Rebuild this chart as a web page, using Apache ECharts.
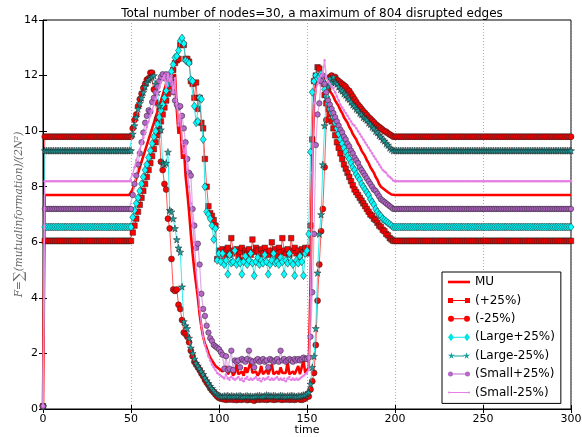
<!DOCTYPE html>
<html>
<head>
<meta charset="utf-8">
<script src="https://cdn.jsdelivr.net/npm/echarts@6/dist/echarts.min.js"></script>
<style>html,body{margin:0;padding:0;background:#fff;}#c{width:582px;height:437px;}</style>
</head>
<body>
<div id="c"></div>
<script>
// values indexed by time t = 0..300
const mu = [0.1,
7.7,7.7,7.7,7.7,7.7,7.7,7.7,7.7,7.7,7.7,
7.7,7.7,7.7,7.7,7.7,7.7,7.7,7.7,7.7,7.7,
7.7,7.7,7.7,7.7,7.7,7.7,7.7,7.7,7.7,7.7,
7.7,7.7,7.7,7.7,7.7,7.7,7.7,7.7,7.7,7.7,
7.7,7.7,7.7,7.7,7.7,7.7,7.7,7.7,7.7,7.7,
7.9,8.1,8.3,8.5,8.7,8.9,9.1,9.3,9.5,9.7,
9.9,10.1,10.3,10.5,10.7,10.9,11.1,11.3,11.5,11.7,
11.85,11.95,12.1,11.9,12.05,10.8,9.9,10.5,9.0,9.5,
8.4,7.8,7.1,6.3,5.6,5.0,4.5,4.0,3.4,2.95,
2.6,2.35,2.2,2.0,1.85,1.75,1.65,1.55,1.5,1.45,
1.4,1.35,1.3,1.55,1.25,1.3,1.45,1.2,1.3,1.6,
1.25,1.3,1.35,1.2,1.5,1.3,1.25,1.7,1.3,1.25,
1.35,1.2,1.3,1.55,1.25,1.3,1.4,1.25,1.3,1.6,
1.25,1.3,1.35,1.25,1.5,1.3,1.25,1.3,1.7,1.25,
1.3,1.35,1.25,1.3,1.55,1.25,1.3,1.75,1.3,1.35,
1.5,4.5,9.0,11.0,11.6,11.8,12.0,11.9,12.0,11.8,
11.7,11.6,11.45,11.35,11.25,11.1,11.0,10.9,10.75,10.65,
10.5,10.4,10.3,10.15,10.05,9.9,9.8,9.7,9.55,9.45,
9.3,9.2,9.1,8.95,8.85,8.7,8.6,8.5,8.35,8.25,
8.1,8.0,7.95,7.9,7.85,7.8,7.75,7.72,7.7,7.7,
7.7,7.7,7.7,7.7,7.7,7.7,7.7,7.7,7.7,7.7,
7.7,7.7,7.7,7.7,7.7,7.7,7.7,7.7,7.7,7.7,
7.7,7.7,7.7,7.7,7.7,7.7,7.7,7.7,7.7,7.7,
7.7,7.7,7.7,7.7,7.7,7.7,7.7,7.7,7.7,7.7,
7.7,7.7,7.7,7.7,7.7,7.7,7.7,7.7,7.7,7.7,
7.7,7.7,7.7,7.7,7.7,7.7,7.7,7.7,7.7,7.7,
7.7,7.7,7.7,7.7,7.7,7.7,7.7,7.7,7.7,7.7,
7.7,7.7,7.7,7.7,7.7,7.7,7.7,7.7,7.7,7.7,
7.7,7.7,7.7,7.7,7.7,7.7,7.7,7.7,7.7,7.7,
7.7,7.7,7.7,7.7,7.7,7.7,7.7,7.7,7.7,7.7];

const plus25 = [0.1,
6.05,6.05,6.05,6.05,6.05,6.05,6.05,6.05,6.05,6.05,
6.05,6.05,6.05,6.05,6.05,6.05,6.05,6.05,6.05,6.05,
6.05,6.05,6.05,6.05,6.05,6.05,6.05,6.05,6.05,6.05,
6.05,6.05,6.05,6.05,6.05,6.05,6.05,6.05,6.05,6.05,
6.05,6.05,6.05,6.05,6.05,6.05,6.05,6.05,6.05,6.05,
6.35,6.6,6.85,7.1,7.35,7.6,7.85,8.1,8.35,8.6,
8.85,9.1,9.35,9.6,9.85,10.1,10.35,10.6,10.85,11.1,
11.35,11.6,11.9,12.2,12.45,12.55,12.6,13.1,13.15,13.1,
12.6,12.6,12.5,11.8,11.7,11.2,11.75,10.8,11.2,10.3,
10.1,9.0,8.0,7.3,7.05,6.95,6.8,6.6,5.4,5.7,
5.6,5.75,5.5,5.7,5.8,5.55,6.15,5.7,5.6,5.75,
5.5,5.65,5.8,5.35,5.7,5.6,5.75,5.55,6.1,5.65,
5.8,5.7,5.45,5.75,5.6,5.8,5.65,5.55,5.7,6.0,
5.6,5.75,5.5,5.8,5.65,6.15,5.7,5.6,5.75,5.55,
6.15,5.7,5.8,5.6,5.7,5.55,5.75,5.65,5.8,5.6,
5.8,6.6,9.7,11.8,12.0,12.3,12.25,11.9,11.7,11.3,
11.0,10.8,10.6,10.35,10.1,9.85,9.6,9.4,9.2,9.0,
8.8,8.65,8.5,8.35,8.2,8.05,7.9,7.8,7.7,7.6,
7.5,7.4,7.3,7.2,7.1,7.0,6.95,6.85,6.8,6.7,
6.6,6.55,6.45,6.4,6.3,6.25,6.15,6.1,6.05,6.05,
6.05,6.05,6.05,6.05,6.05,6.05,6.05,6.05,6.05,6.05,
6.05,6.05,6.05,6.05,6.05,6.05,6.05,6.05,6.05,6.05,
6.05,6.05,6.05,6.05,6.05,6.05,6.05,6.05,6.05,6.05,
6.05,6.05,6.05,6.05,6.05,6.05,6.05,6.05,6.05,6.05,
6.05,6.05,6.05,6.05,6.05,6.05,6.05,6.05,6.05,6.05,
6.05,6.05,6.05,6.05,6.05,6.05,6.05,6.05,6.05,6.05,
6.05,6.05,6.05,6.05,6.05,6.05,6.05,6.05,6.05,6.05,
6.05,6.05,6.05,6.05,6.05,6.05,6.05,6.05,6.05,6.05,
6.05,6.05,6.05,6.05,6.05,6.05,6.05,6.05,6.05,6.05,
6.05,6.05,6.05,6.05,6.05,6.05,6.05,6.05,6.05,6.05];

const minus25 = [0.1,
9.8,9.8,9.8,9.8,9.8,9.8,9.8,9.8,9.8,9.8,
9.8,9.8,9.8,9.8,9.8,9.8,9.8,9.8,9.8,9.8,
9.8,9.8,9.8,9.8,9.8,9.8,9.8,9.8,9.8,9.8,
9.8,9.8,9.8,9.8,9.8,9.8,9.8,9.8,9.8,9.8,
9.8,9.8,9.8,9.8,9.8,9.8,9.8,9.8,9.8,9.8,
10.1,10.4,10.6,10.9,11.15,11.35,11.55,11.7,11.85,11.9,
12.1,12.1,11.5,11.05,10.45,10.0,8.9,8.6,8.1,7.9,
6.85,6.5,5.4,4.3,4.25,4.3,3.75,3.6,3.2,2.75,
2.7,2.6,2.4,2.1,1.9,1.7,1.6,1.5,1.4,1.28,
1.18,1.05,0.95,0.86,0.75,0.67,0.6,0.52,0.45,0.4,
0.38,0.36,0.35,0.33,0.35,0.34,0.36,0.33,0.35,0.32,
0.35,0.34,0.33,0.36,0.35,0.32,0.34,0.35,0.33,0.3,
0.34,0.35,0.33,0.36,0.34,0.35,0.33,0.34,0.36,0.35,
0.33,0.34,0.35,0.36,0.34,0.33,0.35,0.34,0.36,0.33,
0.35,0.34,0.33,0.35,0.36,0.34,0.33,0.35,0.38,0.45,
0.45,0.7,1.0,1.3,2.3,3.9,5.2,6.4,7.2,8.7,
10.4,11.5,11.95,12.0,11.85,11.95,11.85,11.8,11.75,11.7,
11.65,11.6,11.5,11.45,11.35,11.25,11.15,11.05,10.95,10.88,
10.8,10.72,10.65,10.58,10.5,10.45,10.38,10.32,10.25,10.2,
10.15,10.1,10.05,10.0,9.98,9.92,9.88,9.84,9.8,9.8,
9.8,9.8,9.8,9.8,9.8,9.8,9.8,9.8,9.8,9.8,
9.8,9.8,9.8,9.8,9.8,9.8,9.8,9.8,9.8,9.8,
9.8,9.8,9.8,9.8,9.8,9.8,9.8,9.8,9.8,9.8,
9.8,9.8,9.8,9.8,9.8,9.8,9.8,9.8,9.8,9.8,
9.8,9.8,9.8,9.8,9.8,9.8,9.8,9.8,9.8,9.8,
9.8,9.8,9.8,9.8,9.8,9.8,9.8,9.8,9.8,9.8,
9.8,9.8,9.8,9.8,9.8,9.8,9.8,9.8,9.8,9.8,
9.8,9.8,9.8,9.8,9.8,9.8,9.8,9.8,9.8,9.8,
9.8,9.8,9.8,9.8,9.8,9.8,9.8,9.8,9.8,9.8,
9.8,9.8,9.8,9.8,9.8,9.8,9.8,9.8,9.8,9.8];

const largePlus25 = [0.1,
6.55,6.55,6.55,6.55,6.55,6.55,6.55,6.55,6.55,6.55,
6.55,6.55,6.55,6.55,6.55,6.55,6.55,6.55,6.55,6.55,
6.55,6.55,6.55,6.55,6.55,6.55,6.55,6.55,6.55,6.55,
6.55,6.55,6.55,6.55,6.55,6.55,6.55,6.55,6.55,6.55,
6.55,6.55,6.55,6.55,6.55,6.55,6.55,6.55,6.55,6.55,
6.9,7.15,7.4,7.6,7.85,8.1,8.35,8.6,8.8,9.05,
9.3,9.55,9.8,10.0,10.25,10.5,10.75,10.95,11.2,11.45,
11.7,11.95,12.15,12.4,12.65,12.7,12.9,13.25,13.35,13.15,
12.55,12.5,12.45,11.85,11.8,10.9,10.3,10.35,11.2,11.15,
9.7,8.0,7.1,7.0,6.85,6.6,6.1,6.5,5.35,5.6,
5.3,5.6,5.2,5.35,4.85,5.55,5.25,5.3,5.7,5.2,
5.35,5.25,4.85,5.3,5.5,5.2,5.35,5.6,5.25,4.8,
5.3,5.45,5.2,5.35,5.25,5.55,5.3,4.85,5.2,5.35,
5.6,5.25,5.3,5.2,5.45,5.3,4.85,5.35,5.25,5.6,
5.3,5.2,4.8,5.35,5.25,5.5,5.3,4.8,5.6,5.7,
6.3,9.25,11.4,11.8,12.0,11.9,11.95,12.05,11.8,11.5,
11.25,11.0,10.8,10.65,10.5,10.3,10.1,9.9,9.7,9.55,
9.4,9.25,9.1,9.0,8.85,8.7,8.6,8.45,8.35,8.25,
8.1,8.0,7.9,7.8,7.7,7.55,7.45,7.35,7.2,7.1,
7.0,6.95,6.85,6.8,6.75,6.7,6.65,6.6,6.55,6.55,
6.55,6.55,6.55,6.55,6.55,6.55,6.55,6.55,6.55,6.55,
6.55,6.55,6.55,6.55,6.55,6.55,6.55,6.55,6.55,6.55,
6.55,6.55,6.55,6.55,6.55,6.55,6.55,6.55,6.55,6.55,
6.55,6.55,6.55,6.55,6.55,6.55,6.55,6.55,6.55,6.55,
6.55,6.55,6.55,6.55,6.55,6.55,6.55,6.55,6.55,6.55,
6.55,6.55,6.55,6.55,6.55,6.55,6.55,6.55,6.55,6.55,
6.55,6.55,6.55,6.55,6.55,6.55,6.55,6.55,6.55,6.55,
6.55,6.55,6.55,6.55,6.55,6.55,6.55,6.55,6.55,6.55,
6.55,6.55,6.55,6.55,6.55,6.55,6.55,6.55,6.55,6.55,
6.55,6.55,6.55,6.55,6.55,6.55,6.55,6.55,6.55,6.55];

const largeMinus25 = [0.1,
9.3,9.3,9.3,9.3,9.3,9.3,9.3,9.3,9.3,9.3,
9.3,9.3,9.3,9.3,9.3,9.3,9.3,9.3,9.3,9.3,
9.3,9.3,9.3,9.3,9.3,9.3,9.3,9.3,9.3,9.3,
9.3,9.3,9.3,9.3,9.3,9.3,9.3,9.3,9.3,9.3,
9.3,9.3,9.3,9.3,9.3,9.3,9.3,9.3,9.3,9.3,
9.9,10.2,10.5,10.8,11.0,11.2,11.4,11.6,11.75,11.85,
11.9,11.95,12.0,11.7,11.4,10.9,10.05,8.85,8.8,8.85,
9.25,7.15,7.1,6.85,6.5,6.1,5.8,5.65,4.4,3.15,
3.0,2.9,2.55,2.2,2.0,1.8,1.65,1.55,1.45,1.35,
1.25,1.12,1.02,0.92,0.82,0.74,0.66,0.58,0.52,0.48,
0.46,0.45,0.47,0.46,0.48,0.45,0.47,0.46,0.45,0.47,
0.46,0.48,0.45,0.44,0.46,0.47,0.45,0.46,0.44,0.45,
0.46,0.47,0.48,0.46,0.45,0.47,0.5,0.48,0.47,0.46,
0.48,0.47,0.45,0.46,0.48,0.47,0.46,0.45,0.47,0.46,
0.48,0.47,0.46,0.45,0.47,0.46,0.48,0.5,0.5,0.55,
0.6,0.9,1.5,1.9,2.9,4.9,6.3,7.0,8.8,10.2,
11.2,11.6,11.9,11.75,11.95,11.75,11.7,11.6,11.5,11.45,
11.35,11.3,11.2,11.15,11.05,10.95,10.9,10.8,10.75,10.65,
10.6,10.5,10.45,10.4,10.3,10.25,10.15,10.1,10.0,9.95,
9.85,9.8,9.7,9.65,9.55,9.5,9.4,9.35,9.3,9.3,
9.3,9.3,9.3,9.3,9.3,9.3,9.3,9.3,9.3,9.3,
9.3,9.3,9.3,9.3,9.3,9.3,9.3,9.3,9.3,9.3,
9.3,9.3,9.3,9.3,9.3,9.3,9.3,9.3,9.3,9.3,
9.3,9.3,9.3,9.3,9.3,9.3,9.3,9.3,9.3,9.3,
9.3,9.3,9.3,9.3,9.3,9.3,9.3,9.3,9.3,9.3,
9.3,9.3,9.3,9.3,9.3,9.3,9.3,9.3,9.3,9.3,
9.3,9.3,9.3,9.3,9.3,9.3,9.3,9.3,9.3,9.3,
9.3,9.3,9.3,9.3,9.3,9.3,9.3,9.3,9.3,9.3,
9.3,9.3,9.3,9.3,9.3,9.3,9.3,9.3,9.3,9.3,
9.3,9.3,9.3,9.3,9.3,9.3,9.3,9.3,9.3,9.3];

const smallPlus25 = [0.1,
7.2,7.2,7.2,7.2,7.2,7.2,7.2,7.2,7.2,7.2,
7.2,7.2,7.2,7.2,7.2,7.2,7.2,7.2,7.2,7.2,
7.2,7.2,7.2,7.2,7.2,7.2,7.2,7.2,7.2,7.2,
7.2,7.2,7.2,7.2,7.2,7.2,7.2,7.2,7.2,7.2,
7.2,7.2,7.2,7.2,7.2,7.2,7.2,7.2,7.2,7.2,
7.7,8.1,8.4,8.8,9.2,9.6,9.95,10.3,10.55,10.75,
10.7,11.05,11.2,11.4,11.6,11.8,11.95,12.05,11.9,12.05,
11.95,11.85,11.7,11.4,11.1,10.95,10.85,10.9,10.55,10.1,
9.6,9.0,8.5,8.4,7.2,6.6,5.8,5.95,5.2,4.15,
3.6,3.35,3.0,2.75,2.55,2.45,2.3,2.25,2.2,2.15,
2.05,1.95,1.45,1.9,1.4,1.45,2.1,1.4,1.75,1.7,
1.75,1.5,1.8,1.75,1.7,1.8,2.1,1.75,1.7,1.5,
1.75,1.8,1.7,1.75,1.8,1.7,1.75,1.5,1.8,1.75,
1.7,1.75,1.8,1.7,2.1,1.75,1.8,1.7,1.75,1.8,
1.75,1.7,1.8,1.75,1.8,1.75,1.8,1.85,1.8,1.8,
1.85,2.6,4.2,6.3,9.5,10.6,11.0,11.8,12.0,11.7,
11.4,11.1,10.95,10.8,10.65,10.5,10.35,10.2,10.05,9.95,
9.8,9.7,9.55,9.45,9.3,9.2,9.05,8.95,8.85,8.7,
8.6,8.5,8.4,8.3,8.2,8.1,8.0,7.9,7.85,7.75,
7.65,7.55,7.5,7.45,7.4,7.35,7.3,7.25,7.2,7.2,
7.2,7.2,7.2,7.2,7.2,7.2,7.2,7.2,7.2,7.2,
7.2,7.2,7.2,7.2,7.2,7.2,7.2,7.2,7.2,7.2,
7.2,7.2,7.2,7.2,7.2,7.2,7.2,7.2,7.2,7.2,
7.2,7.2,7.2,7.2,7.2,7.2,7.2,7.2,7.2,7.2,
7.2,7.2,7.2,7.2,7.2,7.2,7.2,7.2,7.2,7.2,
7.2,7.2,7.2,7.2,7.2,7.2,7.2,7.2,7.2,7.2,
7.2,7.2,7.2,7.2,7.2,7.2,7.2,7.2,7.2,7.2,
7.2,7.2,7.2,7.2,7.2,7.2,7.2,7.2,7.2,7.2,
7.2,7.2,7.2,7.2,7.2,7.2,7.2,7.2,7.2,7.2,
7.2,7.2,7.2,7.2,7.2,7.2,7.2,7.2,7.2,7.2];

const smallMinus25 = [0.1,
8.2,8.2,8.2,8.2,8.2,8.2,8.2,8.2,8.2,8.2,
8.2,8.2,8.2,8.2,8.2,8.2,8.2,8.2,8.2,8.2,
8.2,8.2,8.2,8.2,8.2,8.2,8.2,8.2,8.2,8.2,
8.2,8.2,8.2,8.2,8.2,8.2,8.2,8.2,8.2,8.2,
8.2,8.2,8.2,8.2,8.2,8.2,8.2,8.2,8.2,8.2,
8.45,8.7,8.95,9.15,9.35,9.55,9.75,9.95,10.15,10.35,
10.55,10.75,10.95,11.15,11.35,11.55,11.75,11.9,12.0,11.6,
12.05,11.8,12.0,11.4,11.9,11.0,10.2,10.6,9.6,9.2,
9.5,8.6,8.0,7.4,6.7,6.0,5.0,4.3,3.6,3.0,
2.6,2.3,2.1,1.9,1.75,1.6,1.5,1.4,1.3,1.25,
1.2,1.15,1.1,1.25,1.1,1.05,1.15,1.1,1.05,1.1,
1.15,1.05,1.1,1.0,1.1,1.15,1.05,1.1,1.05,1.1,
1.15,1.05,1.1,1.0,1.1,1.05,1.1,1.15,1.05,1.1,
1.05,1.1,1.15,1.05,1.1,1.05,1.1,1.0,1.1,1.15,
1.05,1.1,1.05,1.1,1.05,1.1,1.15,1.2,1.25,1.3,
1.4,4.0,8.5,11.0,11.5,11.7,11.9,12.0,12.1,12.55,
11.9,11.8,11.7,11.6,11.55,11.4,11.25,11.1,10.95,10.85,
10.75,10.65,10.55,10.45,10.35,10.25,10.2,10.1,10.0,9.9,
9.8,9.7,9.6,9.5,9.4,9.3,9.2,9.1,9.0,8.9,
8.8,8.7,8.6,8.55,8.5,8.4,8.35,8.3,8.22,8.2,
8.2,8.2,8.2,8.2,8.2,8.2,8.2,8.2,8.2,8.2,
8.2,8.2,8.2,8.2,8.2,8.2,8.2,8.2,8.2,8.2,
8.2,8.2,8.2,8.2,8.2,8.2,8.2,8.2,8.2,8.2,
8.2,8.2,8.2,8.2,8.2,8.2,8.2,8.2,8.2,8.2,
8.2,8.2,8.2,8.2,8.2,8.2,8.2,8.2,8.2,8.2,
8.2,8.2,8.2,8.2,8.2,8.2,8.2,8.2,8.2,8.2,
8.2,8.2,8.2,8.2,8.2,8.2,8.2,8.2,8.2,8.2,
8.2,8.2,8.2,8.2,8.2,8.2,8.2,8.2,8.2,8.2,
8.2,8.2,8.2,8.2,8.2,8.2,8.2,8.2,8.2,8.2,
8.2,8.2,8.2,8.2,8.2,8.2,8.2,8.2,8.2,8.2];

const seriesNames = ['MU', '(+25%)', '(-25%)', '(Large+25%)', '(Large-25%)', '(Small+25%)', '(Small-25%)'];
const xTicks = [0, 300, 50];   // min, max, step
const yTicks = [0, 14, 2];

const FONT = 'DejaVu Sans';
const STAR = 'path://M50,0 L61,35 L98,35 L68,57 L79,91 L50,70 L21,91 L32,57 L2,35 L39,35 Z';
const pts = vals => vals.map((v, i) => [i, v]);

// legend icons in the matplotlib manner: a line with a marker at each end
const ICONS = [
  'path://M0,0h22v2.6h-22z',
  'path://M0,0h5v5h-5z M17,0h5v5h-5z M5,2h12v1h-12z',
  'path://M0,3a3,3 0 1,0 6,0a3,3 0 1,0 -6,0z M16,3a3,3 0 1,0 6,0a3,3 0 1,0 -6,0z M6,2.5h10v1h-10z',
  'path://M3,0L6,4L3,8L0,4z M19,0L22,4L19,8L16,4z M6,3.5h10v1h-10z',
  'path://M3.5,0L4.27,2.45L6.86,2.45L4.76,3.99L5.53,6.37L3.5,4.9L1.47,6.37L2.24,3.99L0.14,2.45L2.73,2.45Z M18.5,0L19.27,2.45L21.86,2.45L19.76,3.99L20.53,6.37L18.5,4.9L16.47,6.37L17.24,3.99L15.14,2.45L17.73,2.45Z M6,3h10v1h-10z',
  'path://M0,2.5a2.5,2.5 0 1,0 5,0a2.5,2.5 0 1,0 -5,0z M17,2.5a2.5,2.5 0 1,0 5,0a2.5,2.5 0 1,0 -5,0z M5,2h12v1h-12z',
  'path://M0,1a1,1 0 1,0 2,0a1,1 0 1,0 -2,0z M20,1a1,1 0 1,0 2,0a1,1 0 1,0 -2,0z M2,0.5h18v1h-18z'
];
const LEGEND_COLORS = ['#ff0000', '#ff0000', '#ff0000', '#00e5e5', '#17a0a0', '#b566c8', '#e67ee6'];

const styles = [
  {data: mu, symbol: 'none', color: '#ff0000', line: '#ff0000', lw: 2.6, lo: 1},
  {data: plus25, symbol: 'rect', size: 5.5, color: '#ff0000', line: '#ff2020', lw: 1, lo: 0.75},
  {data: minus25, symbol: 'circle', size: 6, color: '#ff0000', line: '#ff2020', lw: 1, lo: 0.75},
  {data: largePlus25, symbol: 'diamond', size: [6, 8], color: '#00ffff', line: '#00e0e0', lw: 1, lo: 0.8},
  {data: largeMinus25, symbol: STAR, size: 7, color: '#19a3a3', line: '#00e8e8', lw: 1, lo: 0.8},
  {data: smallPlus25, symbol: 'circle', size: 5.5, color: '#b566c8', line: '#d9a2e2', lw: 1.2, lo: 0.9},
  {data: smallMinus25, symbol: 'circle', size: 2.5, color: '#e67ee6', line: '#e58be5', lw: 1.5, lo: 0.9}
];

const series = styles.map((s, k) => ({
  name: seriesNames[k],
  type: 'line',
  data: pts(s.data),
  symbol: s.symbol,
  symbolSize: s.size || 4,
  showAllSymbol: true,
  animation: false,
  clip: true,
  z: 2 + k,
  lineStyle: {color: s.line, width: s.lw, opacity: s.lo},
  itemStyle: {color: s.color, borderColor: s.symbol === 'none' ? s.color : '#222', borderWidth: k === 6 ? 0 : 0.5},
  emphasis: {disabled: true}
}));

const chart = echarts.init(document.getElementById('c'), null, {renderer: 'canvas'});
chart.setOption({
  animation: false,
  backgroundColor: '#ffffff',
  title: {
    text: 'Total number of nodes=30, a maximum of 804 disrupted edges',
    left: 307, top: 3, textAlign: 'center',
    textStyle: {fontFamily: FONT, fontSize: 12, fontWeight: 'normal', color: '#000'}
  },
  grid: {left: 43, right: 11, top: 20, bottom: 28, containLabel: false, outerBoundsMode: 'none',
         show: true, borderColor: '#000', borderWidth: 1, backgroundColor: 'transparent'},
  legend: {
    orient: 'vertical', left: 442, top: 272,
    backgroundColor: '#fff', borderColor: '#000', borderWidth: 1,
    padding: [3, 6, 4, 6],
    itemWidth: 22, itemHeight: 10, itemGap: 4.4,
    selectedMode: false,
    itemStyle: {borderWidth: 0},
    textStyle: {fontFamily: FONT, fontSize: 12, color: '#000', lineHeight: 14},
    data: seriesNames.map((n, k) => ({name: n, icon: ICONS[k], itemStyle: {color: LEGEND_COLORS[k], borderWidth: 0}}))
  },
  xAxis: [{
    type: 'value', min: xTicks[0], max: xTicks[1], interval: xTicks[2],
    name: 'time', nameLocation: 'middle', nameGap: 16, nameMoveOverlap: false,
    nameTextStyle: {fontFamily: FONT, fontSize: 11, color: '#000'},
    axisLine: {show: true, onZero: false, lineStyle: {color: '#000', width: 1}},
    axisTick: {show: true, inside: true, length: 4, lineStyle: {color: '#000'}},
    axisLabel: {fontFamily: FONT, fontSize: 11, color: '#000', margin: 5},
    splitLine: {show: true, lineStyle: {color: '#9a9a9a', type: [1, 2], width: 0.8}}
  }, {
    type: 'value', position: 'top', min: xTicks[0], max: xTicks[1], interval: xTicks[2],
    axisLine: {show: false}, axisLabel: {show: false}, splitLine: {show: false},
    axisTick: {show: true, inside: true, length: 4, lineStyle: {color: '#000'}}
  }],
  yAxis: [{
    type: 'value', min: yTicks[0], max: yTicks[1], interval: yTicks[2],
    name: '{a|F=}{b|∑}{a|(mutualinformation)/(2N²)}', nameLocation: 'middle', nameGap: 17, nameRotate: 90,
    nameMoveOverlap: false,
    nameTextStyle: {
      color: '#666',
      rich: {
        a: {fontFamily: 'DejaVu Serif', fontStyle: 'italic', fontSize: 10.5, color: '#666'},
        b: {fontFamily: 'DejaVu Serif', fontSize: 14, color: '#666'}
      }
    },
    axisLine: {show: true, onZero: false, lineStyle: {color: '#000', width: 1}},
    axisTick: {show: true, inside: true, length: 4, lineStyle: {color: '#000'}},
    axisLabel: {fontFamily: FONT, fontSize: 11, color: '#000', margin: 5},
    splitLine: {show: false}
  }, {
    type: 'value', position: 'right', min: yTicks[0], max: yTicks[1], interval: yTicks[2],
    axisLine: {show: false}, axisLabel: {show: false}, splitLine: {show: false},
    axisTick: {show: true, inside: true, length: 4, lineStyle: {color: '#000'}}
  }],
  series: series
});
</script>
</body>
</html>
